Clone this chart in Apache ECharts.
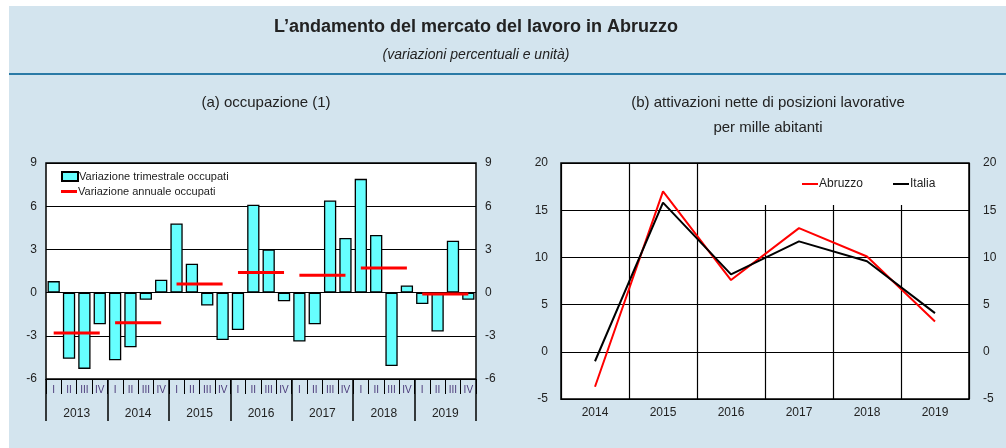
<!DOCTYPE html>
<html>
<head>
<meta charset="utf-8">
<script src="https://cdn.jsdelivr.net/npm/echarts@6/dist/echarts.min.js"></script>
<style>
  html, body { margin: 0; padding: 0; background: #fff; }
  #chart { width: 1006px; height: 448px; }
</style>
</head>
<body>
<div id="chart"></div>
<script>
var FONT = 'Liberation Sans, Arial, sans-serif';

// (a) occupazione
var quarters = ['I', 'II', 'III', 'IV'];
var years = ['2013', '2014', '2015', '2016', '2017', '2018', '2019'];
var quarterlyChange = [
  0.8, -4.6, -5.3, -2.2,
  -4.7, -3.8, -0.5, 0.9,
  4.8, 2.0, -0.9, -3.3,
  -2.6, 6.1, 3.0, -0.6,
  -3.4, -2.2, 6.4, 3.8,
  7.9, 4.0, -5.1, 0.5,
  -0.8, -2.7, 3.6, -0.5
];
var annualChange = [-2.8, -2.1, 0.6, 1.4, 1.2, 1.7, -0.1];
var leftTicks = { min: -6, max: 9, interval: 3 };

// (b) attivazioni nette
var lineYears = ['2014', '2015', '2016', '2017', '2018', '2019'];
var abruzzo = [-3.7, 17.0, 7.6, 13.1, 10.1, 3.2];
var italia = [-1.0, 15.8, 8.2, 11.7, 9.6, 4.1];
var rightTicks = { min: -5, max: 20, interval: 5 };

// build category list and the annual segments (split in two series so years do not join)
var quarterCats = [];
var annualOdd = [];
var annualEven = [];
years.forEach(function (y, yi) {
  quarters.forEach(function (q) {
    quarterCats.push(q);
    annualOdd.push(yi % 2 === 0 ? annualChange[yi] : null);
    annualEven.push(yi % 2 === 1 ? annualChange[yi] : null);
  });
});

var chart = echarts.init(document.getElementById('chart'));

var axisText = { color: '#222', fontSize: 12, fontFamily: FONT };
var blackLine = { color: '#000', width: 1.2 };
var legendText = { fontSize: 11, color: '#222', fontFamily: FONT, padding: [0, 0, 0, -4] };

var option = {
  animation: false,
  textStyle: { fontFamily: FONT },
  graphic: [
    { type: 'rect', z: -10, shape: { x: 9, y: 6, width: 997, height: 442 }, style: { fill: '#d3e4ee' } },
    { type: 'line', z: -9, shape: { x1: 9, y1: 74, x2: 1006, y2: 74 }, style: { stroke: '#2a7aa6', lineWidth: 2 } }
  ],
  title: [
    {
      text: 'L\u2019andamento del mercato del lavoro in Abruzzo',
      left: 471, top: 13, textAlign: 'center',
      textStyle: { fontSize: 18, fontWeight: 'bold', color: '#222', fontFamily: FONT }
    },
    {
      text: '(variazioni percentuali e unit\u00e0)',
      left: 471, top: 43, textAlign: 'center',
      textStyle: { fontSize: 14, fontStyle: 'italic', fontWeight: 'normal', color: '#222', fontFamily: FONT }
    },
    {
      text: '(a) occupazione (1)',
      left: 261, top: 90, textAlign: 'center',
      textStyle: { fontSize: 15, fontWeight: 'normal', color: '#222', fontFamily: FONT }
    },
    {
      text: '(b) attivazioni nette di posizioni lavorative\nper mille abitanti',
      left: 763, top: 85, textAlign: 'center',
      textStyle: { fontSize: 15, fontWeight: 'normal', color: '#222', lineHeight: 25, fontFamily: FONT }
    }
  ],
  legend: [
    {
      data: [{ name: 'Variazione trimestrale occupati', icon: 'rect' }],
      left: 56, top: 166,
      itemWidth: 16, itemHeight: 9,
      textStyle: legendText
    },
    {
      data: [{ name: 'Variazione annuale occupati', icon: 'rect' }],
      left: 56, top: 181,
      itemWidth: 16, itemHeight: 3,
      textStyle: legendText
    },
    {
      data: [{ name: 'Abruzzo', icon: 'rect' }, { name: 'Italia', icon: 'rect' }],
      left: 763, top: 164,
      padding: [14, 29, 15, 39],
      backgroundColor: '#fff',
      itemGap: 30, itemWidth: 16, itemHeight: 2,
      textStyle: { fontSize: 12, color: '#222', fontFamily: FONT, padding: [0, 0, 0, -4] }
    }
  ],
  grid: [
    { left: 46, top: 163, width: 430, height: 216, show: true, backgroundColor: '#fff', borderColor: '#000', borderWidth: 1.5 },
    { left: 561, top: 163, width: 408, height: 236, show: true, backgroundColor: '#fff', borderColor: '#000', borderWidth: 1.5 }
  ],
  xAxis: [
    {
      type: 'category', gridIndex: 0, data: quarterCats, boundaryGap: true,
      axisLine: { show: true, onZero: false, lineStyle: blackLine },
      axisTick: { show: true, interval: 0, length: 15, lineStyle: { color: '#000', width: 1 } },
      axisLabel: { interval: 0, margin: 6, fontSize: 10, color: '#4a3a7a', fontFamily: FONT }
    },
    {
      type: 'category', gridIndex: 0, data: years, boundaryGap: true, position: 'bottom',
      axisLine: { show: false, onZero: false },
      axisTick: { show: true, interval: 0, length: 42, lineStyle: { color: '#000', width: 1.5 } },
      axisLabel: { interval: 0, margin: 29, fontSize: 12, color: '#222', fontFamily: FONT }
    },
    {
      type: 'category', gridIndex: 1, data: lineYears, boundaryGap: true,
      axisLine: { onZero: false, lineStyle: blackLine },
      axisTick: { show: false },
      axisLabel: { margin: 8, fontSize: 12, color: '#222', fontFamily: FONT },
      splitLine: { show: true, lineStyle: blackLine }
    }
  ],
  yAxis: [
    {
      type: 'value', gridIndex: 0, min: leftTicks.min, max: leftTicks.max, interval: leftTicks.interval,
      axisLine: { show: false }, axisTick: { show: false },
      axisLabel: Object.assign({ margin: 9 }, axisText),
      splitLine: { lineStyle: blackLine }
    },
    {
      type: 'value', gridIndex: 0, position: 'right', min: leftTicks.min, max: leftTicks.max, interval: leftTicks.interval,
      axisLine: { show: false }, axisTick: { show: false },
      axisLabel: Object.assign({ margin: 9 }, axisText),
      splitLine: { show: false }
    },
    {
      type: 'value', gridIndex: 1, min: rightTicks.min, max: rightTicks.max, interval: rightTicks.interval,
      axisLine: { show: false }, axisTick: { show: false },
      axisLabel: Object.assign({ margin: 13 }, axisText),
      splitLine: { lineStyle: blackLine }
    },
    {
      type: 'value', gridIndex: 1, position: 'right', min: rightTicks.min, max: rightTicks.max, interval: rightTicks.interval,
      axisLine: { show: false }, axisTick: { show: false },
      axisLabel: Object.assign({ margin: 14 }, axisText),
      splitLine: { show: false }
    }
  ],
  series: [
    {
      name: 'Variazione trimestrale occupati', type: 'bar', xAxisIndex: 0, yAxisIndex: 0,
      data: quarterlyChange, barWidth: '80%',
      itemStyle: { color: '#66ffff', borderColor: '#000', borderWidth: 1.3 }
    },
    {
      name: 'Variazione annuale occupati', type: 'line', xAxisIndex: 0, yAxisIndex: 0,
      data: annualOdd, symbol: 'none', connectNulls: false, z: 5,
      lineStyle: { color: '#ff0000', width: 3 }, itemStyle: { color: '#ff0000' }
    },
    {
      name: 'Variazione annuale occupati', type: 'line', xAxisIndex: 0, yAxisIndex: 0,
      data: annualEven, symbol: 'none', connectNulls: false, z: 5,
      lineStyle: { color: '#ff0000', width: 3 }, itemStyle: { color: '#ff0000' }
    },
    {
      name: 'Abruzzo', type: 'line', xAxisIndex: 2, yAxisIndex: 2,
      data: abruzzo, symbol: 'none',
      lineStyle: { color: '#ff0000', width: 2 }, itemStyle: { color: '#ff0000' }
    },
    {
      name: 'Italia', type: 'line', xAxisIndex: 2, yAxisIndex: 2,
      data: italia, symbol: 'none',
      lineStyle: { color: '#000', width: 2 }, itemStyle: { color: '#000' }
    }
  ]
};

chart.setOption(option);
</script>
</body>
</html>
